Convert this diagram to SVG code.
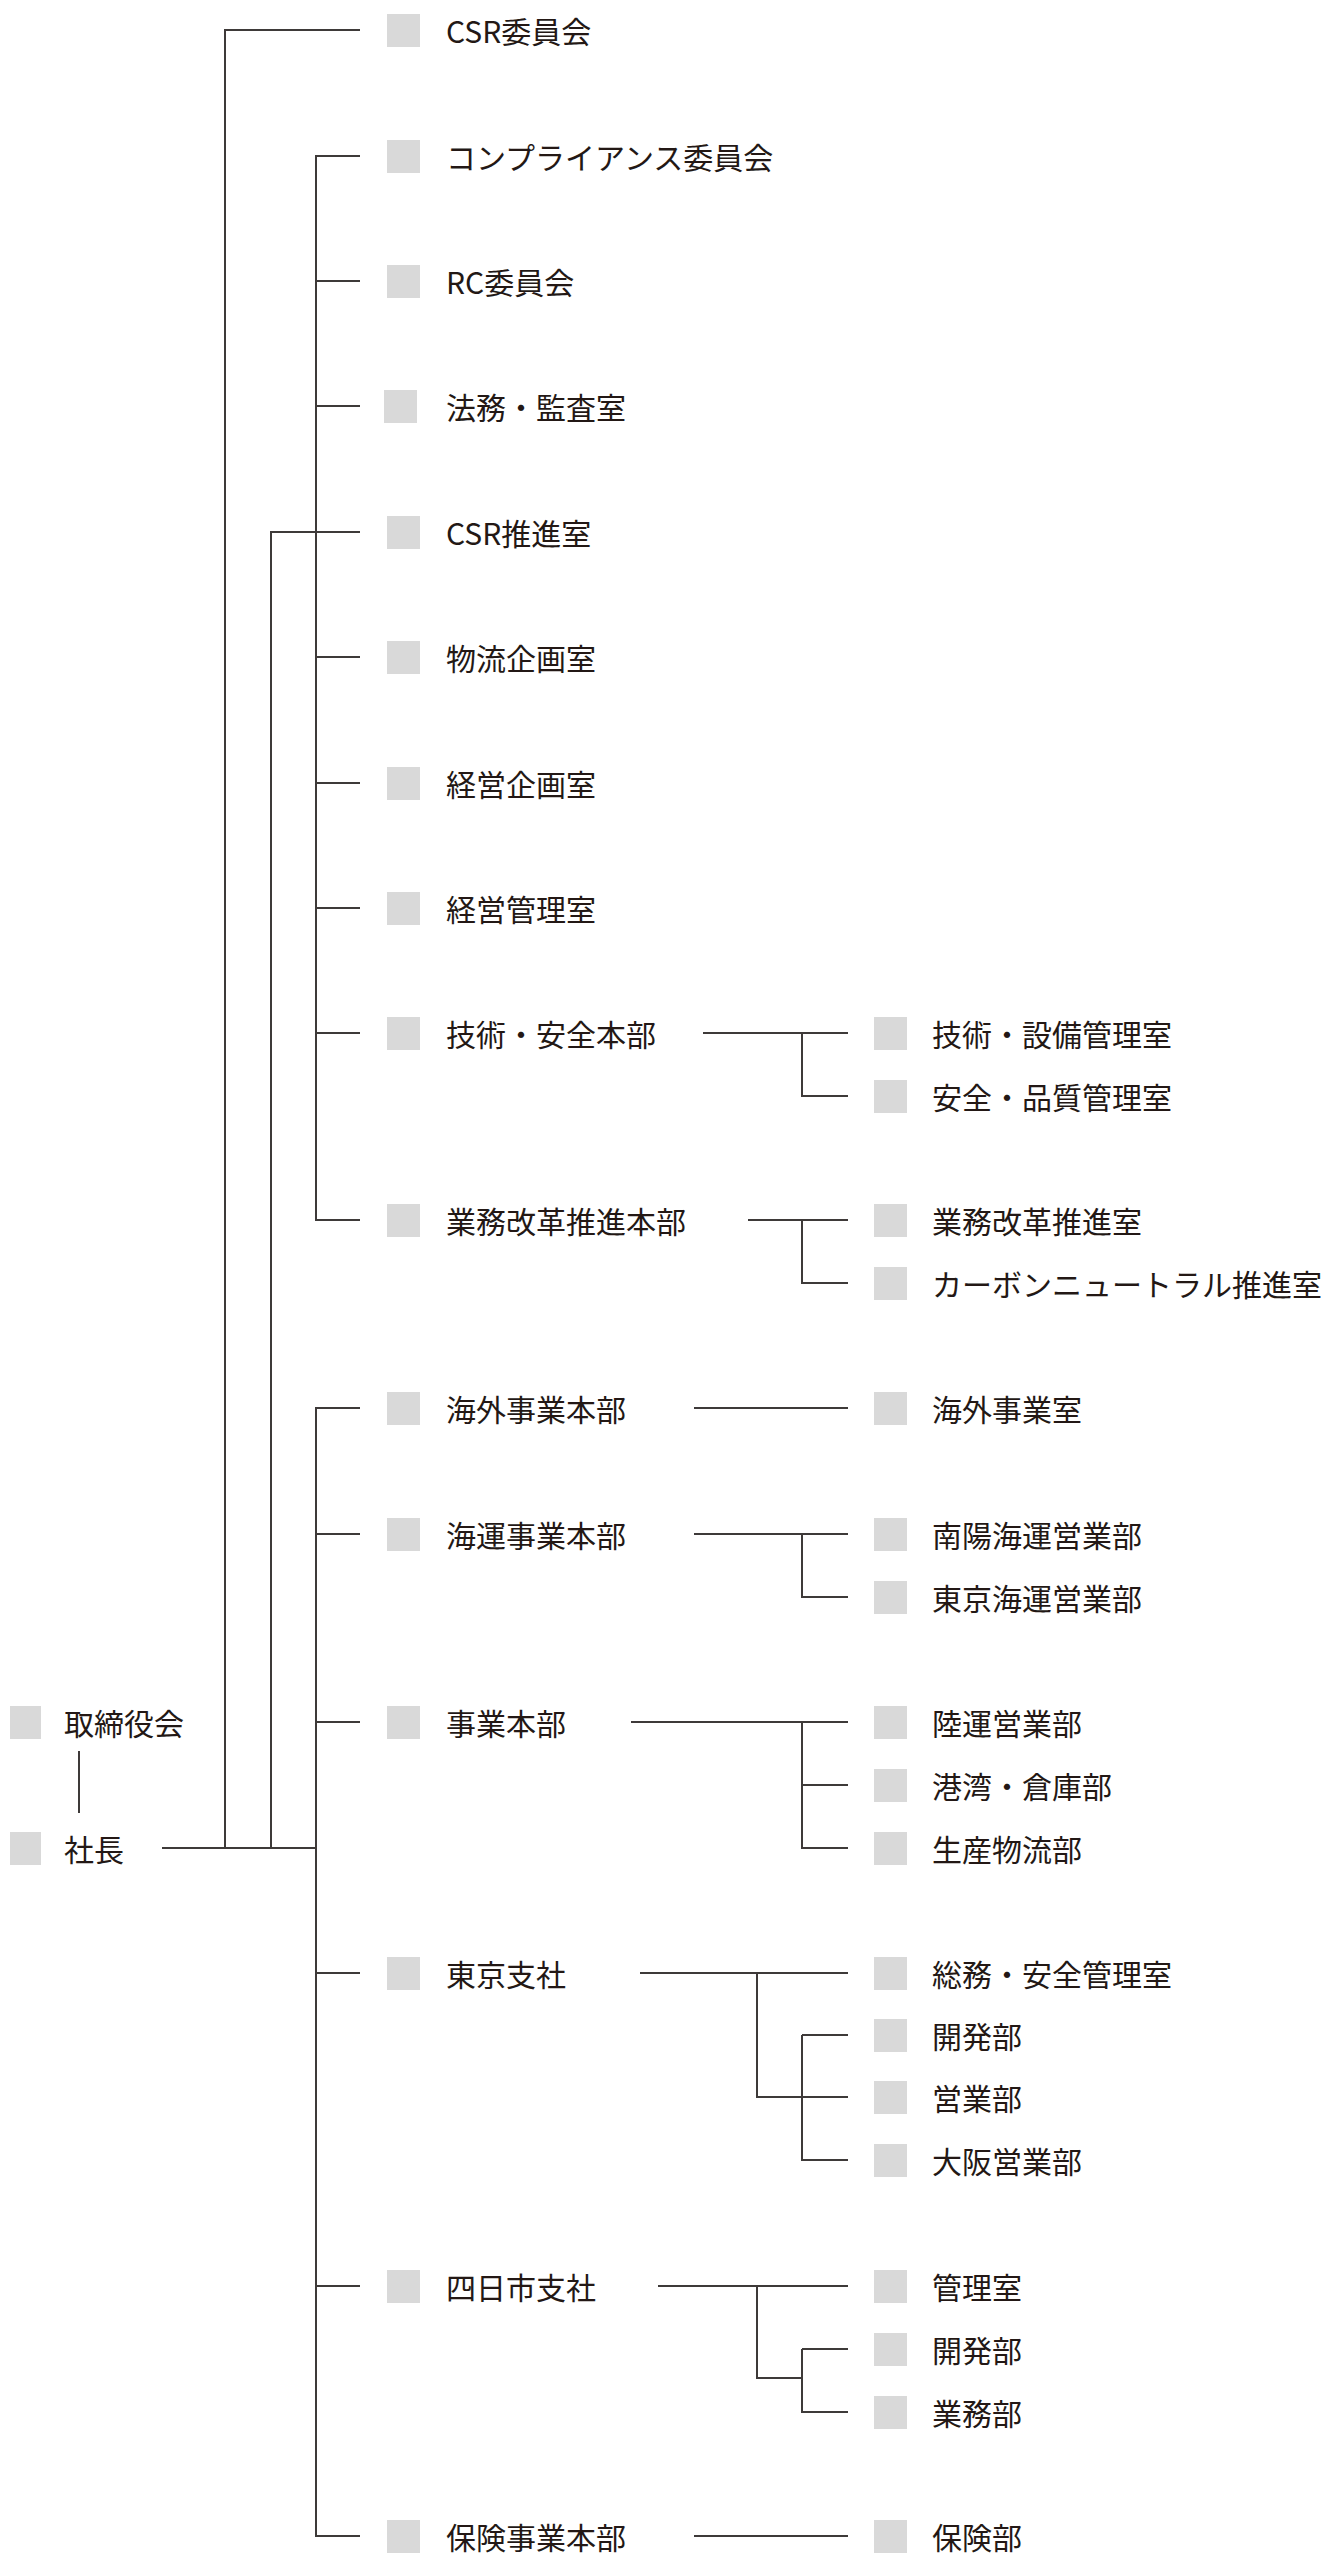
<svg xmlns="http://www.w3.org/2000/svg" width="1334" height="2560" viewBox="0 0 1334 2560">
<style>
.sq{fill:#d9d9d9}
text{font-family:"Noto Sans CJK JP","Noto Sans",sans-serif;font-size:30px;fill:#231815;dominant-baseline:central}
.ln{stroke:#3e3a39;stroke-width:2;fill:none}
</style>
<rect width="1334" height="2560" fill="#fff"/>
<g id="connectors" class="ln">
<path d="M360 30H225V1848M360 156H316V1220H360M360 281H316M360 406H316M360 532H271V1848M360 657H316M360 783H316M360 908H316M360 1033H316"/>
<path d="M360 1408H316V2536H360M360 1534H316M360 1722H316M360 1973H316M360 2286H316M162 1848H316"/>
<path d="M79 1751V1813"/>
<path d="M703 1033H848M802 1033V1096H848"/>
<path d="M748 1220H848M802 1220V1283H848"/>
<path d="M694 1408H848"/>
<path d="M694 1534H848M802 1534V1597H848"/>
<path d="M631 1722H848M802 1722V1848H848M802 1785H848"/>
<path d="M640 1973H848M757 1973V2097H848M802 2035V2160H848M802 2035H848"/>
<path d="M658 2286H848M757 2286V2378H802M802 2349V2412H848M802 2349H848"/>
<path d="M694 2536H848"/>
</g>
<g id="n-board"><rect class="sq" x="10" y="1706" width="31" height="33"/><text x="64" y="1722">取締役会</text></g>
<g id="n-president"><rect class="sq" x="10" y="1832" width="31" height="33"/><text x="64" y="1848">社長</text></g>
<g id="n1"><rect class="sq" x="387" y="14" width="33" height="33"/><text x="446" y="30">CSR委員会</text></g>
<g id="n2"><rect class="sq" x="387" y="140" width="33" height="33"/><text x="446" y="156">コンプライアンス委員会</text></g>
<g id="n3"><rect class="sq" x="387" y="265" width="33" height="33"/><text x="446" y="281">RC委員会</text></g>
<g id="n4"><rect class="sq" x="384" y="390" width="33" height="33"/><text x="446" y="406">法務・監査室</text></g>
<g id="n5"><rect class="sq" x="387" y="516" width="33" height="33"/><text x="446" y="532">CSR推進室</text></g>
<g id="n6"><rect class="sq" x="387" y="641" width="33" height="33"/><text x="446" y="657">物流企画室</text></g>
<g id="n7"><rect class="sq" x="387" y="767" width="33" height="33"/><text x="446" y="783">経営企画室</text></g>
<g id="n8"><rect class="sq" x="387" y="892" width="33" height="33"/><text x="446" y="908">経営管理室</text></g>
<g id="n9"><rect class="sq" x="387" y="1017" width="33" height="33"/><text x="446" y="1033">技術・安全本部</text></g>
<g id="n10"><rect class="sq" x="387" y="1204" width="33" height="33"/><text x="446" y="1220">業務改革推進本部</text></g>
<g id="n11"><rect class="sq" x="387" y="1392" width="33" height="33"/><text x="446" y="1408">海外事業本部</text></g>
<g id="n12"><rect class="sq" x="387" y="1518" width="33" height="33"/><text x="446" y="1534">海運事業本部</text></g>
<g id="n13"><rect class="sq" x="387" y="1706" width="33" height="33"/><text x="446" y="1722">事業本部</text></g>
<g id="n14"><rect class="sq" x="387" y="1957" width="33" height="33"/><text x="446" y="1973">東京支社</text></g>
<g id="n15"><rect class="sq" x="387" y="2270" width="33" height="33"/><text x="446" y="2286">四日市支社</text></g>
<g id="n16"><rect class="sq" x="387" y="2520" width="33" height="33"/><text x="446" y="2536">保険事業本部</text></g>
<g id="s1"><rect class="sq" x="874" y="1017" width="33" height="33"/><text x="932" y="1033">技術・設備管理室</text></g>
<g id="s2"><rect class="sq" x="874" y="1080" width="33" height="33"/><text x="932" y="1096">安全・品質管理室</text></g>
<g id="s3"><rect class="sq" x="874" y="1204" width="33" height="33"/><text x="932" y="1220">業務改革推進室</text></g>
<g id="s4"><rect class="sq" x="874" y="1267" width="33" height="33"/><text x="932" y="1283">カーボンニュートラル推進室</text></g>
<g id="s5"><rect class="sq" x="874" y="1392" width="33" height="33"/><text x="932" y="1408">海外事業室</text></g>
<g id="s6"><rect class="sq" x="874" y="1518" width="33" height="33"/><text x="932" y="1534">南陽海運営業部</text></g>
<g id="s7"><rect class="sq" x="874" y="1581" width="33" height="33"/><text x="932" y="1597">東京海運営業部</text></g>
<g id="s8"><rect class="sq" x="874" y="1706" width="33" height="33"/><text x="932" y="1722">陸運営業部</text></g>
<g id="s9"><rect class="sq" x="874" y="1769" width="33" height="33"/><text x="932" y="1785">港湾・倉庫部</text></g>
<g id="s10"><rect class="sq" x="874" y="1832" width="33" height="33"/><text x="932" y="1848">生産物流部</text></g>
<g id="s11"><rect class="sq" x="874" y="1957" width="33" height="33"/><text x="932" y="1973">総務・安全管理室</text></g>
<g id="s12"><rect class="sq" x="874" y="2019" width="33" height="33"/><text x="932" y="2035">開発部</text></g>
<g id="s13"><rect class="sq" x="874" y="2081" width="33" height="33"/><text x="932" y="2097">営業部</text></g>
<g id="s14"><rect class="sq" x="874" y="2144" width="33" height="33"/><text x="932" y="2160">大阪営業部</text></g>
<g id="s15"><rect class="sq" x="874" y="2270" width="33" height="33"/><text x="932" y="2286">管理室</text></g>
<g id="s16"><rect class="sq" x="874" y="2333" width="33" height="33"/><text x="932" y="2349">開発部</text></g>
<g id="s17"><rect class="sq" x="874" y="2396" width="33" height="33"/><text x="932" y="2412">業務部</text></g>
<g id="s18"><rect class="sq" x="874" y="2520" width="33" height="33"/><text x="932" y="2536">保険部</text></g>
</svg>
